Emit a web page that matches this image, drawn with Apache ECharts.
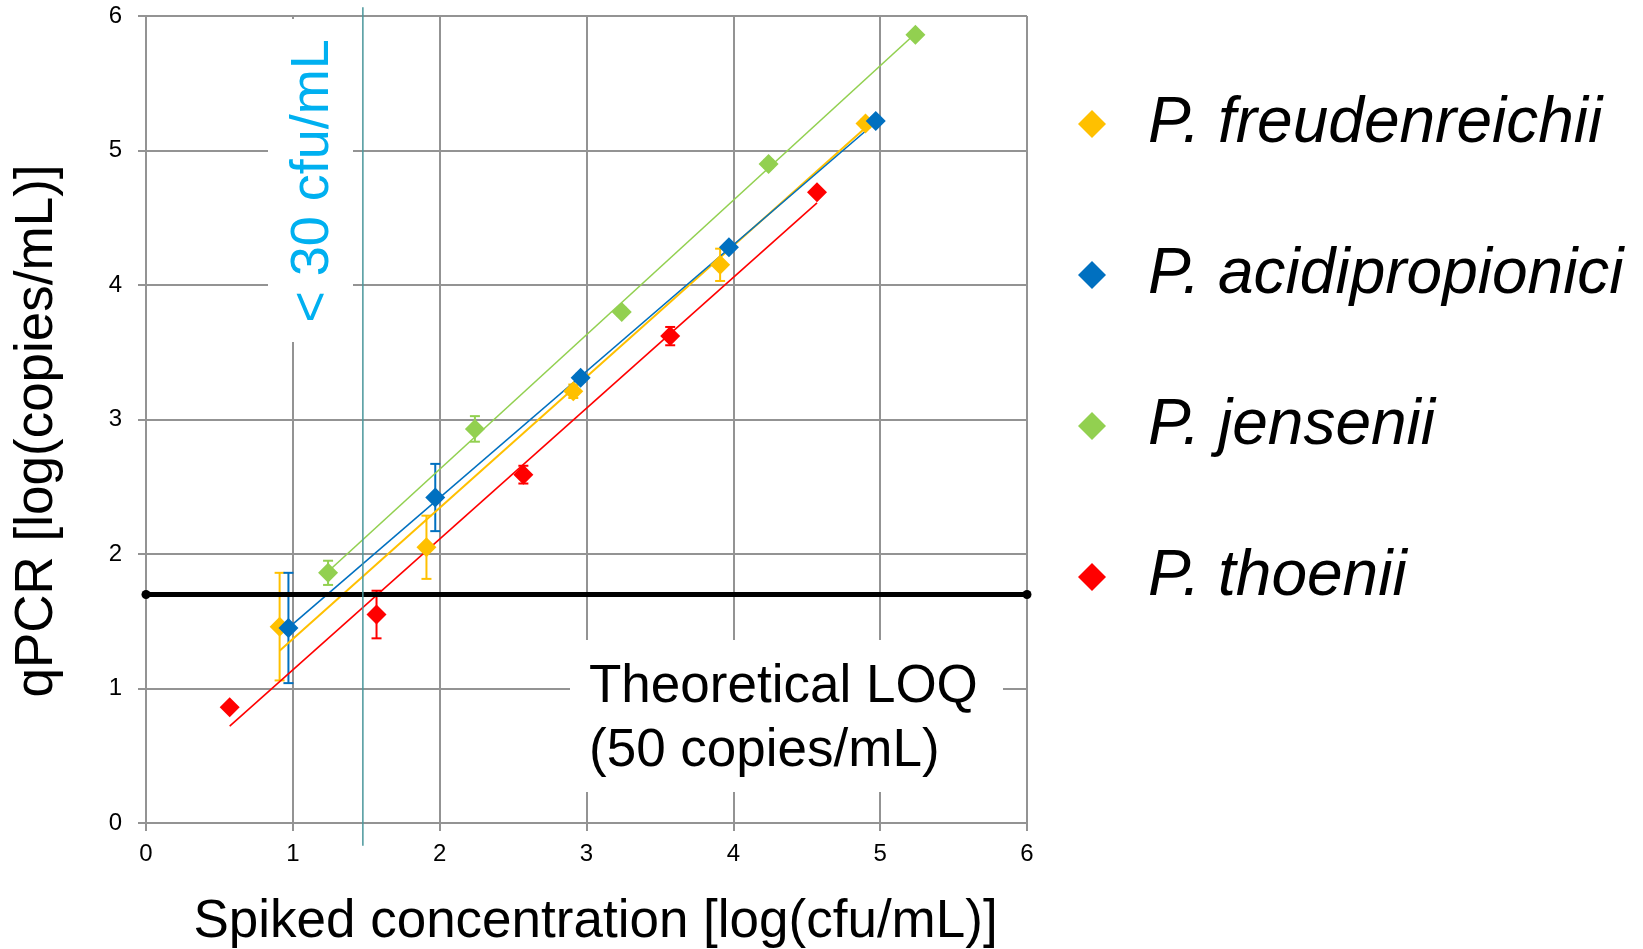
<!DOCTYPE html>
<html><head><meta charset="utf-8">
<script src="https://cdn.jsdelivr.net/npm/echarts@6/dist/echarts.min.js"></script>
<style>html,body{margin:0;padding:0;background:#fff;}#c{width:1643px;height:949px;}</style>
</head><body><div id="c"></div>
<script>
// ---- data ----
const xTicks = [0, 1, 2, 3, 4, 5, 6];
const yTicks = [0, 1, 2, 3, 4, 5, 6];
const speciesNames = ['P. freudenreichii', 'P. acidipropionici', 'P. jensenii', 'P. thoenii'];
const speciesColors = ['#FFC000', '#0070C0', '#92D050', '#FF0000'];

const freudX = [0.91, 1.91, 2.91, 3.91, 4.90];
const freudY = [1.46, 2.05, 3.21, 4.15, 5.20];
const freudErr = [0.40, 0.235, 0.05, 0.12, 0.03];
const freudFit = [[0.91, 1.28], [4.90, 5.17]];

const acidX = [0.97, 1.97, 2.96, 3.97, 4.97];
const acidY = [1.45, 2.42, 3.31, 4.28, 5.22];
const acidErr = [0.41, 0.25, 0.03, 0.03, 0.03];
const acidFit = [[0.97, 1.45], [4.97, 5.21]];

const jensX = [1.24, 2.24, 3.24, 4.24, 5.24];
const jensY = [1.86, 2.93, 3.80, 4.90, 5.86];
const jensErr = [0.09, 0.095, 0.03, 0.03, 0.02];
const jensFit = [[1.24, 1.87], [5.24, 5.87]];

const thoeX = [0.57, 1.57, 2.57, 3.57, 4.57];
const thoeY = [0.86, 1.55, 2.59, 3.62, 4.69];
const thoeErr = [0, 0.177, 0.066, 0.068, 0];
const thoeFit = [[0.57, 0.72], [4.57, 4.61]];

const loqValue = 1.699;   // log10(50 copies/mL)
const limitX = 1.477;     // log10(30 cfu/mL)
const limitSpan = [-0.17, 6.065]; // vertical extent of the limit line

// ---- build ----
const FONT = '"Liberation Sans", Arial, sans-serif';
const GRID_COLOR = '#939393';
const groups = [
  [freudX, freudY, freudErr, freudFit],
  [acidX, acidY, acidErr, acidFit],
  [jensX, jensY, jensErr, jensFit],
  [thoeX, thoeY, thoeErr, thoeFit]
];

function errRender(color) {
  return function (params, api) {
    const x = api.value(0), lo = api.value(1), hi = api.value(2);
    if (hi - lo <= 0) return null;
    const pHi = api.coord([x, hi]), pLo = api.coord([x, lo]);
    const w = 5;
    const st = { stroke: color, lineWidth: 2 };
    return {
      type: 'group', children: [
        { type: 'line', shape: { x1: pHi[0], y1: pHi[1], x2: pLo[0], y2: pLo[1] }, style: st },
        { type: 'line', shape: { x1: pHi[0] - w, y1: pHi[1], x2: pHi[0] + w, y2: pHi[1] }, style: st },
        { type: 'line', shape: { x1: pLo[0] - w, y1: pLo[1], x2: pLo[0] + w, y2: pLo[1] }, style: st }
      ]
    };
  };
}

const series = [];
groups.forEach(([xs, ys, es, fit], i) => {
  const c = speciesColors[i];
  series.push({
    type: 'custom', name: speciesNames[i] + ' error', z: 3,
    renderItem: errRender(c),
    data: xs.map((x, k) => [x, ys[k] - es[k], ys[k] + es[k]]),
    encode: { x: 0, y: [1, 2] }, silent: true
  });
  series.push({
    type: 'line', name: speciesNames[i] + ' fit', z: 4, data: fit,
    symbol: 'none', lineStyle: { color: c, width: i === 0 ? 2 : 1.6 }, silent: true
  });
});
groups.forEach(([xs, ys], i) => {
  series.push({
    type: 'scatter', name: speciesNames[i], z: 5,
    symbol: 'diamond', symbolSize: 20,
    itemStyle: { color: speciesColors[i], opacity: 1 },
    data: xs.map((x, k) => [x, ys[k]])
  });
});
series.push({
  type: 'line', name: 'LOQ', z: 6,
  data: [[xTicks[0], loqValue], [xTicks[xTicks.length - 1], loqValue]],
  symbol: 'circle', symbolSize: 9,
  itemStyle: { color: '#000' }, lineStyle: { color: '#000', width: 5 }, silent: true
});
series.push({
  type: 'line', name: 'limit', z: 6, clip: false,
  data: [[limitX, limitSpan[0]], [limitX, limitSpan[1]]],
  symbol: 'none', lineStyle: { color: '#4A979B', width: 1.5 }, silent: true
});

const chart = echarts.init(document.getElementById('c'), null, { renderer: 'canvas' });
chart.setOption({
  animation: false,
  backgroundColor: '#fff',
  grid: { left: 146, right: 616, top: 16, bottom: 126, containLabel: false, outerBoundsMode: 'none' },
  xAxis: {
    type: 'value', min: xTicks[0], max: xTicks[xTicks.length - 1], interval: 1,
    name: 'Spiked concentration [log(cfu/mL)]', nameLocation: 'middle', nameGap: 73,
    nameTextStyle: { fontSize: 53, fontFamily: FONT, color: '#000', padding: [0, 0, 0, 18] },
    axisLine: { show: true, lineStyle: { color: GRID_COLOR, width: 2 } },
    axisTick: { show: true, length: 8, lineStyle: { color: GRID_COLOR, width: 2 } },
    axisLabel: { fontSize: 24, fontFamily: FONT, color: '#000', margin: 19 },
    splitLine: { show: true, lineStyle: { color: GRID_COLOR, width: 2 } }
  },
  yAxis: {
    type: 'value', min: yTicks[0], max: yTicks[yTicks.length - 1], interval: 1,
    name: 'qPCR [log(copies/mL)]', nameLocation: 'middle', nameGap: 82, nameRotate: 90,
    nameTextStyle: { fontSize: 53, fontFamily: FONT, color: '#000', padding: [0, 23, 0, 0] },
    axisLine: { show: true, lineStyle: { color: GRID_COLOR, width: 2 } },
    axisTick: { show: true, length: 8, lineStyle: { color: GRID_COLOR, width: 2 } },
    axisLabel: { fontSize: 24, fontFamily: FONT, color: '#000', margin: 24 },
    splitLine: { show: true, lineStyle: { color: GRID_COLOR, width: 2 } }
  },
  legend: {
    orient: 'vertical', left: 1073, top: 87, itemGap: 87, itemWidth: 102, itemHeight: 28,
    selectedMode: false,
    data: speciesNames.map(n => ({ name: n, icon: 'path://M0,1L1,0L2,1L1,2Z' })),
    textStyle: { fontSize: 64, fontStyle: 'italic', fontFamily: FONT, color: '#000', lineHeight: 62 }
  },
  graphic: [
    { type: 'rect', z: 1, shape: { x: 268, y: 19, width: 85, height: 323 }, style: { fill: '#fff' } },
    { type: 'rect', z: 1, shape: { x: 570, y: 640, width: 433, height: 152 }, style: { fill: '#fff' } },
    { type: 'text', z: 2, x: 313, y: 181, rotation: Math.PI / 2,
      style: { text: '< 30 cfu/mL', fill: '#00B0F0', fontSize: 54, fontFamily: FONT, align: 'center', verticalAlign: 'middle' } },
    { type: 'text', z: 2, x: 589, y: 655,
      style: { text: 'Theoretical LOQ\n(50 copies/mL)', fill: '#000', fontSize: 53, fontFamily: FONT, lineHeight: 64, align: 'left', verticalAlign: 'top' } }
  ],
  series: series
});
</script>
</body></html>
